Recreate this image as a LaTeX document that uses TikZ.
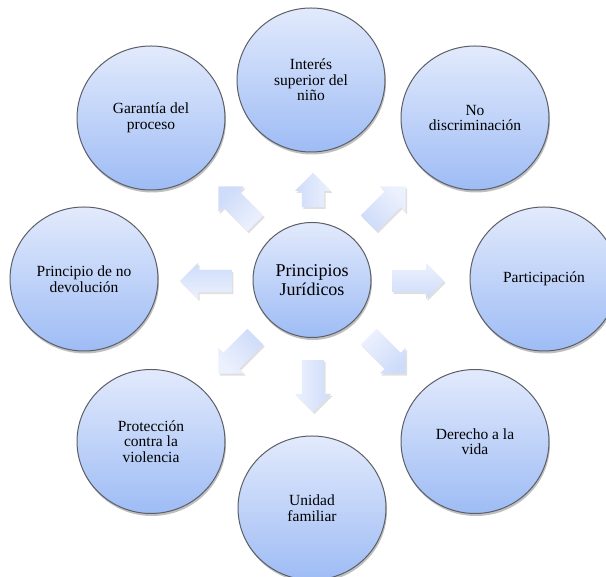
\documentclass[tikz,border=0pt]{standalone}
\usepackage{fontspec}
\setmainfont{Liberation Serif}
\usetikzlibrary{shapes.geometric,shapes.arrows,shadows}

\definecolor{bubbletop}{RGB}{226,234,252}
\definecolor{bubblebottom}{RGB}{158,188,245}
\definecolor{bubbleedge}{RGB}{92,94,104}
\definecolor{arrowtop}{RGB}{236,241,253}
\definecolor{arrowbottom}{RGB}{206,220,250}

\begin{document}
\begin{tikzpicture}[x=1pt, y=1pt,
	bubble/.style={ellipse, draw=bubbleedge, line width=1pt,
		top color=bubbletop, bottom color=bubblebottom,
		minimum width=148pt, minimum height=144pt, inner sep=0pt,
		align=center, font=\fontsize{15.5}{15.5}\selectfont,
		drop shadow={fill=black, opacity=0.25, shadow xshift=1pt, shadow yshift=-2.5pt}},
	hubbubble/.style={bubble, minimum width=118pt, minimum height=115pt,
		font=\fontsize{18}{18.5}\selectfont},
	blockarrow/.style={single arrow, draw=none,
		top color=arrowtop, bottom color=arrowbottom,
		inner xsep=0pt, inner ysep=11pt, single arrow head extend=7pt,
		minimum height=52pt, anchor=tail, rotate=#1, shading angle={-1*(#1)},
		drop shadow={fill=black, opacity=0.12, shadow xshift=1.5pt, shadow yshift=-2pt}}]
				% Frame, hub and arrows:
				\useasboundingbox (0, 0) rectangle (606, 577);
				\node[hubbubble] (hub) at (312, 297) {Principios\\Jurídicos};
				\node[blockarrow=90, minimum height=34pt] (aN) at (313, 370) {};
				\node[blockarrow=45] (aNE) at (368.6, 353.6) {};
				\node[blockarrow=0] (aE) at (392, 296) {};
				\node[blockarrow=-45] (aSE) at (368.6, 240.4) {};
				\node[blockarrow=-90] (aS) at (313, 217) {};
				\node[blockarrow=-135] (aSW) at (255.4, 240.4) {};
				\node[blockarrow=180] (aW) at (232, 296) {};
				\node[blockarrow=135] (aNW) at (255.4, 353.6) {};
				% Outer circles:
				\node[bubble] (nino) at (311, 497) {Interés\\superior del\\niño};
				\node[bubble] (nodisc) at (475, 459) {No\\discriminación};
				\node[bubble] (partic) at (544, 298) {Participación};
				\node[bubble] (vida) at (475, 135.5) {Derecho a la\\vida};
				\node[bubble] (familia) at (312, 69) {Unidad\\familiar};
				\node[bubble] (violencia) at (151, 135.5) {Protección\\contra la\\violencia};
				\node[bubble] (devol) at (84, 298) {Principio de no\\devolución};
				\node[bubble] (garantia) at (151, 459) {Garantía del\\proceso};
			\end{tikzpicture}
\end{document}
